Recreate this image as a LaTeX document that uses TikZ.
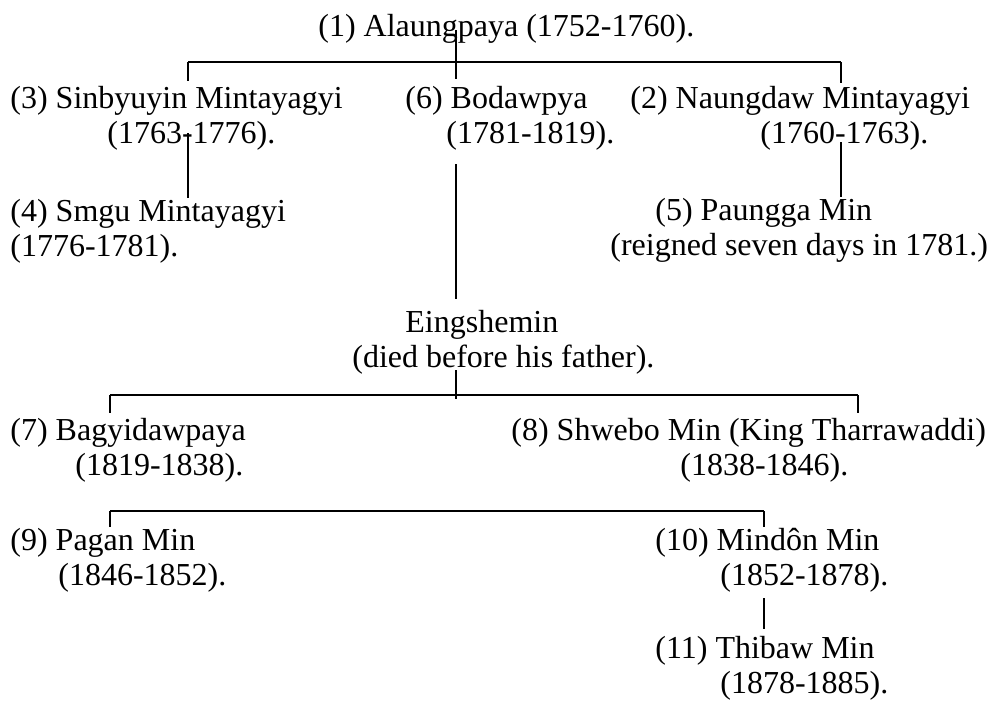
\documentclass[tikz,border=0pt]{standalone}
\usepackage{fontspec}
\setmainfont{Liberation Serif}
\usepackage{tikz}
\usetikzlibrary{calc}
\newcommand{\kingfont}{\fontsize{16}{17.5}\selectfont}
\tikzstyle{person}=[anchor=base west,align=left,inner sep=0pt,font=\kingfont]
\tikzstyle{bar}=[line width=0.9pt]
\tikzstyle{stem}=[line width=0.55pt]

\begin{document}
\begin{tikzpicture}[x=0.5pt,y=-0.5pt]
\useasboundingbox (0,0) rectangle (995,702);
\node[person] (alaungpaya) at (318,36) {(1) Alaungpaya (1752-1760).};
\node[person] (sinbyuyin) at (10,143) {(3) Sinbyuyin Mintayagyi\\\hspace*{48.5pt}(1763-1776).};
\node[person] (bodawpya) at (405,143) {(6) Bodawpya\\\hspace*{20.5pt}(1781-1819).};
\node[person] (naungdaw) at (630,143) {(2) Naungdaw Mintayagyi\\\hspace*{65pt}(1760-1763).};
\node[person] (smgu) at (10,256) {(4) Smgu Mintayagyi\\(1776-1781).};
\node[person] (paungga) at (610,255) {\hspace*{22.5pt}(5) Paungga Min\\(reigned seven days in 1781.)};
\node[person] (eingshemin) at (352,367) {\hspace*{26.5pt}Eingshemin\\(died before his father).};
\node[person] (bagyidaw) at (10,475) {(7) Bagyidawpaya\\\hspace*{32.5pt}(1819-1838).};
\node[person] (shwebo) at (511,475) {(8) Shwebo Min (King Tharrawaddi)\\\hspace*{84.5pt}(1838-1846).};
\node[person] (pagan) at (10,585) {(9) Pagan Min\\\hspace*{24pt}(1846-1852).};
\node[person] (mindon) at (655,585) {(10) Mindôn Min\\\hspace*{32.5pt}(1852-1878).};
\node[person] (thibaw) at (655,693) {(11) Thibaw Min\\\hspace*{32.5pt}(1878-1885).};

\coordinate (j1) at (456,62);
\coordinate (j1l) at (188,62);
\coordinate (j1r) at (841,62);
\coordinate (j2) at (456,395);
\coordinate (j2l) at (110,395);
\coordinate (j2r) at (858,395);
\coordinate (j3l) at (110,511);
\coordinate (j3r) at (764,511);

\draw[bar] (j1l) -- (j1r);
\draw[stem] ([yshift=3pt]alaungpaya.base -| j1) -- ([yshift=3pt]bodawpya.north -| j1);
\draw[stem] (j1l) -- ([yshift=2pt]sinbyuyin.north -| j1l);
\draw[stem] (j1r) -- ([yshift=1pt]naungdaw.north -| j1r);
\draw[stem] ([yshift=8.5pt]sinbyuyin.south -| j1l) -- (smgu.north -| j1l);
\draw[stem] ([yshift=4pt]naungdaw.south -| j1r) -- (paungga.north -| j1r);
\draw[stem] ([yshift=-7pt]bodawpya.south -| j1) -- ([yshift=5pt]eingshemin.north -| j1);
\draw[stem] ([yshift=2pt]eingshemin.south -| j1) -- ([yshift=-2pt]j2);
\draw[bar] (j2l) -- (j2r);
\draw[stem] (j2l) -- ([yshift=2pt]bagyidaw.north -| j2l);
\draw[stem] (j2r) -- ([yshift=2pt]shwebo.north -| j2r);
\draw[bar] (j3l) -- (j3r);
\draw[stem] (j3l) -- (pagan.north -| j3l);
\draw[stem] (j3r) -- (mindon.north -| j3r);
\draw[stem] ([yshift=-3pt]mindon.south -| j3r) -- ([yshift=3pt]thibaw.north -| j3r);
\end{tikzpicture}
\end{document}
